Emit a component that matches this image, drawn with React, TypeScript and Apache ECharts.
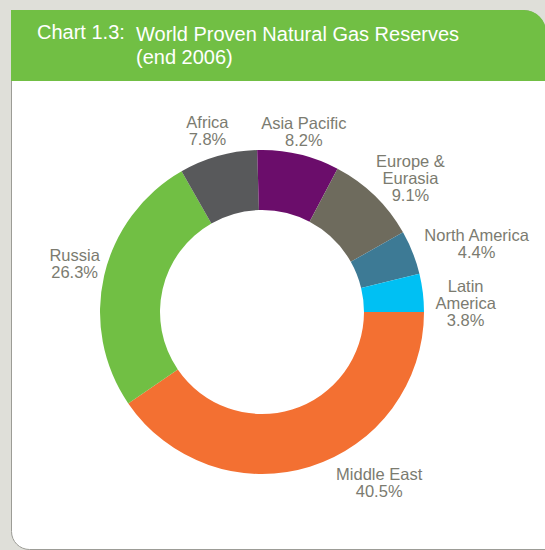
import React, { useEffect, useRef } from "react";
import * as echarts from "echarts";

const regions = ["Middle East", "Russia", "Africa", "Asia Pacific", "Europe &\nEurasia", "North America", "Latin\nAmerica"];
const shares = [40.5, 26.3, 7.8, 8.2, 9.1, 4.4, 3.8];
const colors = ["#f37032", "#71bf44", "#58595b", "#6b0d6b", "#6e6b5d", "#3d7a95", "#00c0f3"];
const titleLead = "Chart 1.3:";
const titleMain = "World Proven Natural Gas Reserves\n(end 2006)";

// layout-only nudges applied to the radial label placement
const labelNudgeX = [59, 4, -3, -2, 2, 7, 4];
const labelNudgeY = [-18, -4, 1, 9, 17, 14, 15];

const CX = 262;
const CY = 312;
const R_IN = 102;
const R_OUT = 162;
const LABEL_GAP = 6;

export default function App() {
  const ref = useRef<HTMLDivElement>(null);
  useEffect(() => {
    if (!ref.current) return;
    const chart = echarts.init(ref.current, undefined, { renderer: "svg" });
    const total = shares.reduce((a, b) => a + b, 0);
    const mids: number[] = [];
    let acc = 0;
    shares.forEach((v) => {
      mids.push(((acc + v / 2) / total) * Math.PI * 2);
      acc += v;
    });
    chart.setOption({
      animation: false,
      backgroundColor: "#dfdfd9",
      graphic: [
        {
          type: "rect",
          z: -10,
          shape: { x: 11.5, y: 10.5, width: 534, height: 539, r: [0, 22, 0, 18] },
          style: { fill: "#ffffff", stroke: "#9c9c96", lineWidth: 1 },
        },
        {
          type: "rect",
          z: -9,
          shape: { x: 11, y: 10, width: 535, height: 71, r: [0, 22, 0, 0] },
          style: { fill: "#71bf44", stroke: null },
        },
        {
          type: "text",
          x: 37,
          y: 22,
          style: { text: titleLead, fill: "#ffffff", font: "20px 'Liberation Sans', Arial, sans-serif" },
        },
        {
          type: "text",
          x: 136,
          y: 22,
          style: {
            text: titleMain,
            fill: "#ffffff",
            font: "20px 'Liberation Sans', Arial, sans-serif",
            lineHeight: 23,
          },
        },
      ],
      series: [
        {
          type: "pie",
          center: [CX, CY],
          radius: [R_IN, R_OUT],
          startAngle: 0,
          clockwise: true,
          avoidLabelOverlap: false,
          itemStyle: { borderWidth: 0 },
          emphasis: { disabled: true },
          label: {
            show: true,
            position: "outside",
            color: "#7b7b70",
            fontFamily: "'Liberation Sans', Arial, sans-serif",
            fontSize: 16.5,
            lineHeight: 17,
            align: "center",
            formatter: (p: any) => `${p.name}\n${Number(p.value).toFixed(1)}%`,
          },
          labelLine: { show: false },
          labelLayout: (p: any) => {
            const i = p.dataIndex;
            const a = mids[i];
            const c = Math.cos(a);
            const s = Math.sin(a);
            const w = p.labelRect ? p.labelRect.width : 60;
            const h = p.labelRect ? p.labelRect.height : 34;
            const r = R_OUT + LABEL_GAP + (w / 2) * Math.abs(c) + (h / 2) * Math.abs(s);
            return {
              x: CX + r * c + labelNudgeX[i],
              y: CY + r * s + labelNudgeY[i],
              align: "center",
              verticalAlign: "middle",
            };
          },
          data: regions.map((n, i) => ({ name: n, value: shares[i], itemStyle: { color: colors[i] } })),
        },
      ],
    });
    return () => chart.dispose();
  }, []);
  return (
    <div
      ref={ref}
      style={{ position: "fixed", left: 0, top: 0, width: 545, height: 550 }}
    />
  );
}
